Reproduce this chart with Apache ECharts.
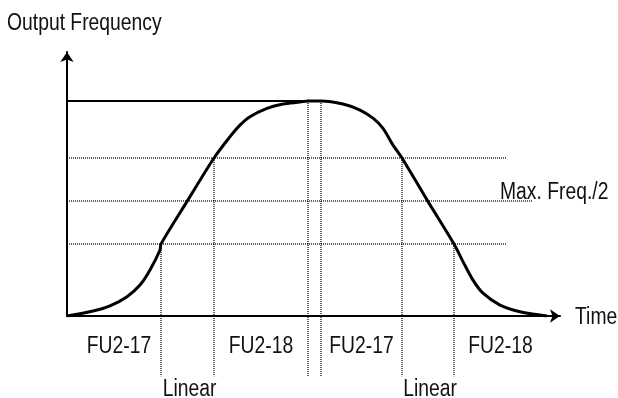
<!DOCTYPE html>
<html>
<head>
<meta charset="utf-8">
<title>Output Frequency S-curve</title>
<script src="https://cdn.jsdelivr.net/npm/echarts@6/dist/echarts.min.js"></script>
<style>
  html, body { margin: 0; padding: 0; background: #fff; }
  #chart { width: 618px; height: 398px; }
</style>
</head>
<body>
<div id="chart"></div>
<script>
// Acceleration / deceleration S-curve profile (time units, frequency in % of max)
const curveTime = [0, 26, 43, 60, 73, 83, 93, 94, 121, 147, 163, 173, 183, 200, 216, 233, 241,
                   254, 276, 293, 306, 316, 326, 335, 360, 387, 396, 406, 416, 433, 453, 480];
const curveFreq = [0, 2.3, 4.7, 9.0, 14.4, 21.4, 30.7, 33.5, 54, 73.5, 83.4, 88.8, 92.7, 96.6, 98.6, 99.5, 100,
                   100, 98.6, 95.8, 92, 87.3, 79.5, 73.5, 54, 33.5, 25.3, 16.7, 10.6, 5.1, 2.0, 0];

// Maximum frequency reference line
const maxFreq = 100;
const maxLineEnd = 254;

// Horizontal dotted guide levels and where each stops
const guideLevels = [33.5, 53.5, 73.5];
const guideEnds = [440, 466, 440];
const halfLevelIndex = 1;
const halfLevelLabel = 'Max. Freq./2';

// Vertical dotted phase boundaries: time, upper end, lower end
const boundaryTimes = [94, 147, 241, 254, 335, 387];
const boundaryTops = [33.5, 73.5, 100, 100, 73.5, 33.5];
const boundaryBottom = -28;

// Phase names and spans
const phaseNames = ['FU2-17', 'FU2-18', 'FU2-17', 'FU2-18'];
const phaseSpans = [[0, 94], [147, 241], [254, 335], [387, 480]];
const linearName = 'Linear';
const linearSpans = [[94, 147], [335, 387]];

const yAxisTitle = 'Output Frequency';
const xAxisTitle = 'Time';

const FONT = "'Liberation Sans', Arial, sans-serif";
const FONT_SIZE = 23;
const NARROW = 0.84;        // horizontal squeeze for a narrow face
const INK = '#000';
const TEXT = '#111';

// Pixel geometry of the plot
const grid = { left: 67, top: 52, right: 58, bottom: 82 };
const pxPerUnit = 2.15;
const plotHeight = 398 - grid.top - grid.bottom;
const yMax = plotHeight / pxPerUnit;
const xMax = 618 - grid.left - grid.right;

const dotted = { color: INK, width: 1.25, type: [1, 1] };

const series = [];

guideLevels.forEach((lv, i) => {
  series.push({
    type: 'line',
    data: [[0, lv], [guideEnds[i], lv]],
    symbol: 'none',
    lineStyle: dotted,
    silent: true,
    z: 1
  });
});

boundaryTimes.forEach((t, i) => {
  series.push({
    type: 'line',
    data: [[t, boundaryTops[i]], [t, boundaryBottom]],
    symbol: 'none',
    lineStyle: dotted,
    clip: false,
    silent: true,
    z: 1
  });
});

series.push({
  type: 'line',
  data: [[0, maxFreq], [maxLineEnd, maxFreq]],
  symbol: 'none',
  lineStyle: { color: INK, width: 2 },
  silent: true,
  z: 2
});

series.push({
  type: 'line',
  data: curveTime.map((t, i) => [t, curveFreq[i]]),
  symbol: 'none',
  smooth: 0.3,
  lineStyle: { color: INK, width: 3 },
  silent: true,
  z: 3
});

const axisArrow = {
  show: true,
  symbol: ['none', 'arrow'],
  symbolSize: [10, 10],
  lineStyle: { color: INK, width: 2 }
};

const chart = echarts.init(document.getElementById('chart'), null, { renderer: 'canvas' });
chart.setOption({
  animation: false,
  backgroundColor: '#fff',
  grid: grid,
  xAxis: {
    type: 'value',
    min: 0,
    max: xMax,
    axisLine: axisArrow,
    axisTick: { show: false },
    axisLabel: { show: false },
    splitLine: { show: false }
  },
  yAxis: {
    type: 'value',
    min: 0,
    max: yMax,
    axisLine: axisArrow,
    axisTick: { show: false },
    axisLabel: { show: false },
    splitLine: { show: false }
  },
  series: series
});

// Text annotations, placed from the chart's own coordinate system
const toPx = (x, y) => chart.convertToPixel({ gridIndex: 0 }, [x, y]);

function label(text, pos, align, dx, dy) {
  return {
    type: 'text',
    x: pos[0] + dx,
    y: pos[1] + dy,
    scaleX: NARROW,
    silent: true,
    z: 10,
    style: {
      text: text,
      fill: TEXT,
      fontFamily: FONT,
      fontSize: FONT_SIZE,
      align: align,
      verticalAlign: 'middle',
      textAlign: align,
      textVerticalAlign: 'middle'
    }
  };
}

const graphics = [];
const yTop = toPx(0, yMax);
const xEnd = toPx(xMax, 0);

graphics.push(label(yAxisTitle, [0, yTop[1]], 'left', 7, -28.5));
graphics.push(label(xAxisTitle, xEnd, 'left', 15, 1.5));

const halfEnd = toPx(guideEnds[halfLevelIndex], guideLevels[halfLevelIndex]);
graphics.push(label(halfLevelLabel, halfEnd, 'left', -33, -8.5));

// Phase captions sit under the axis, centred on their spans
const phaseNudge = [5, 0, 0, 0];
phaseSpans.forEach((sp, i) => {
  graphics.push(label(phaseNames[i], toPx((sp[0] + sp[1]) / 2, 0), 'center', phaseNudge[i], 30.5));
});
linearSpans.forEach(sp => {
  graphics.push(label(linearName, toPx((sp[0] + sp[1]) / 2, 0), 'center', 2, 74));
});

chart.setOption({ graphic: graphics });
</script>
</body>
</html>
